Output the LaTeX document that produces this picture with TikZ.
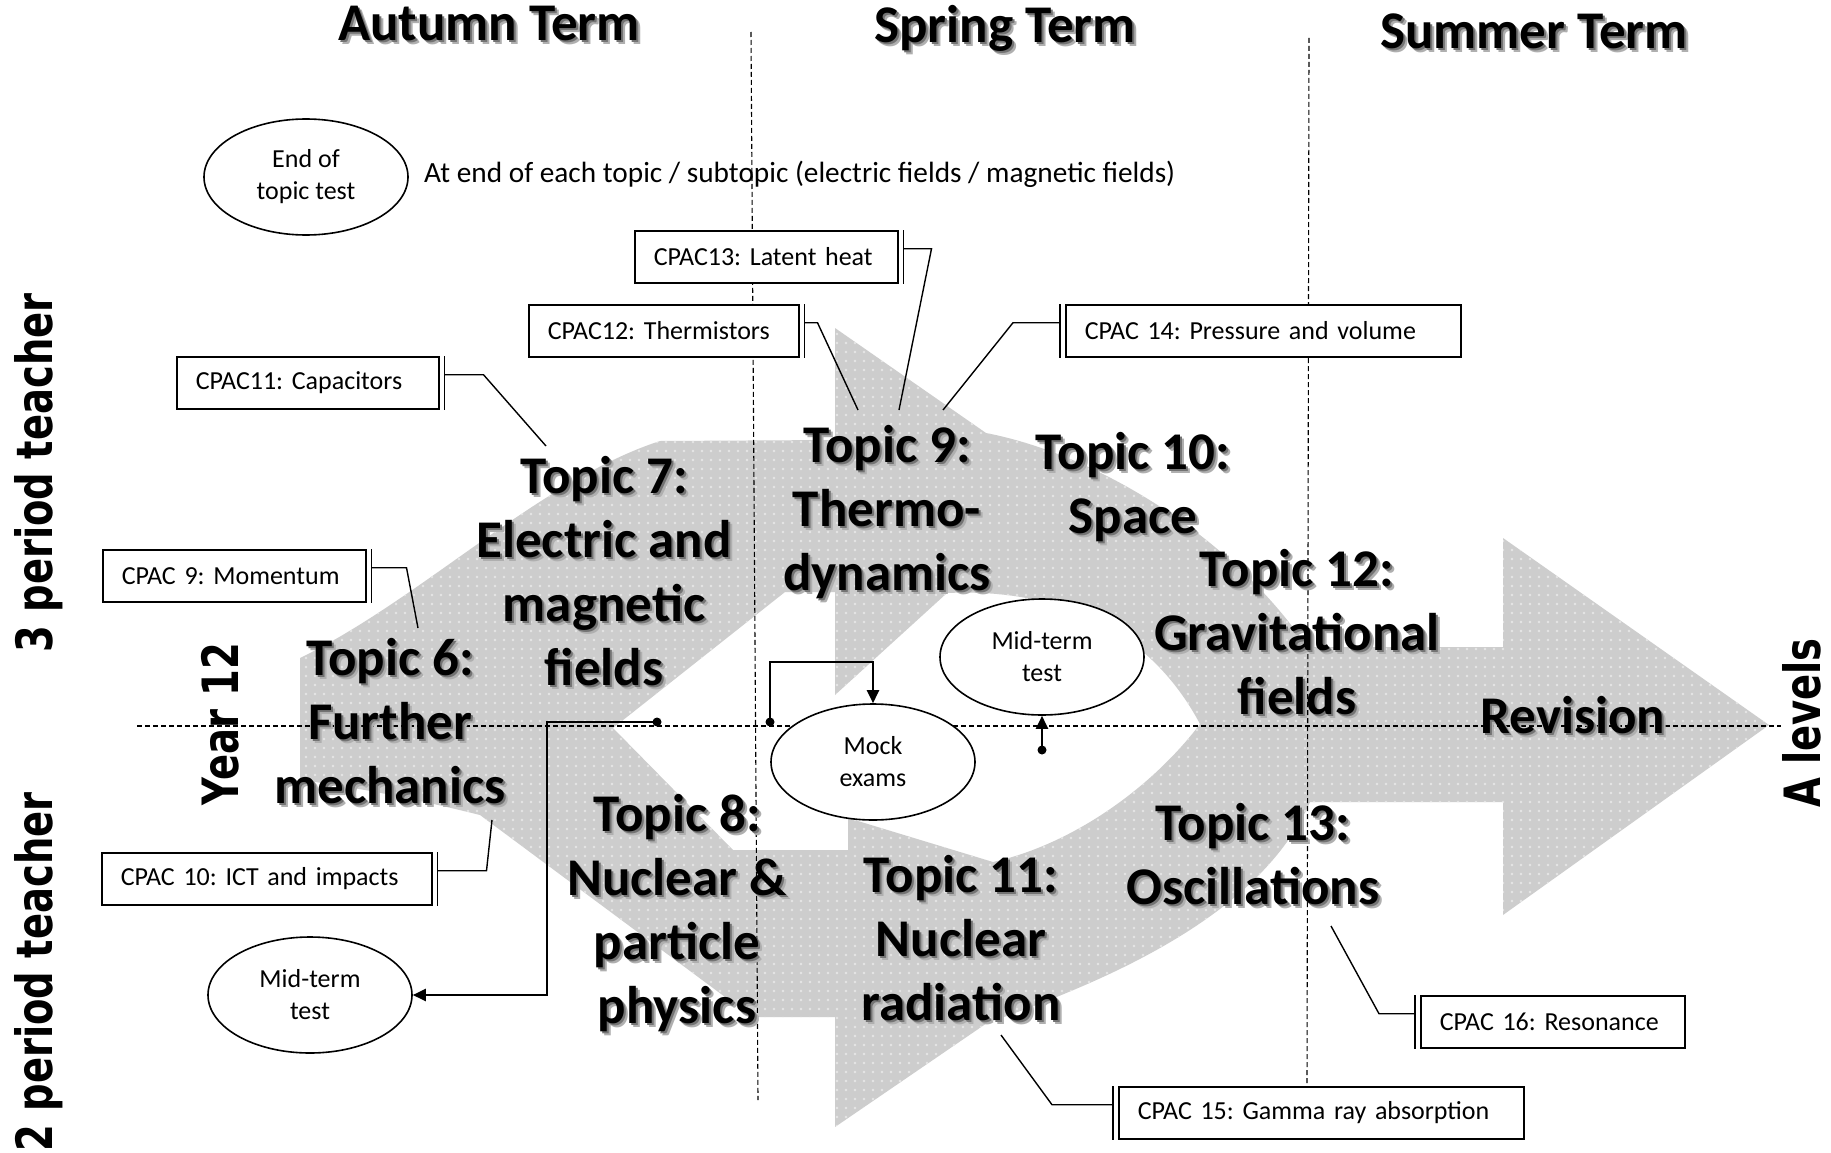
\documentclass[tikz,border=0pt]{standalone}
\usepackage{fontspec}
\setmainfont{Carlito}
\newfontfamily\sidefamily{DejaVu Sans}
\usetikzlibrary{shapes.geometric,arrows.meta,patterns.meta,calc}

\definecolor{bandgray}{RGB}{205,205,205}
\definecolor{banddot}{RGB}{230,230,230}
\definecolor{shadowsoft}{RGB}{175,175,175}
\definecolor{shadowgray}{RGB}{115,115,115}

\newcommand\tpfont{\fontsize{53}{64}\selectfont\bfseries}
\newcommand\boxfont{\fontsize{26}{32}\selectfont\frenchspacing}
\newcommand\notefont{\fontsize{29.3}{35}\selectfont\frenchspacing}
\newcommand\sidefont{\fontsize{38.5}{46}\selectfont\sidefamily\bfseries}

% centred lines of bold text over a soft drop shadow
\newcommand\shadowed[1]{%
  \makebox[0pt][l]{\hspace*{4pt}\raisebox{-4pt}[0pt][0pt]{\color{shadowsoft}\begin{tabular}[b]{@{}c@{}}#1\end{tabular}}}%
  \makebox[0pt][l]{\hspace*{2pt}\raisebox{-2pt}[0pt][0pt]{\color{shadowgray}\begin{tabular}[b]{@{}c@{}}#1\end{tabular}}}%
  \begin{tabular}[b]{@{}c@{}}#1\end{tabular}}

\tikzset{
  biglabel/.style={font=\tpfont, inner sep=0pt},
  sidelabel/.style={font=\sidefont, rotate=90, inner sep=0pt},
  guide/.style={line width=1.1pt, dash pattern=on 5pt off 3pt},
  cpac/.style={draw, line width=1.5pt, fill=white, font=\boxfont, align=left,
    minimum height=52pt, inner xsep=19pt, inner ysep=0pt, anchor=north west},
  accent/.style={line width=1.5pt},
  callout/.style={line width=1.4pt},
  event/.style={ellipse, draw, line width=1.6pt, fill=white, font=\boxfont,
    align=center, minimum width=204pt, minimum height=116pt, inner sep=0pt},
  flow/.style={line width=2.2pt, -{Triangle[length=13pt,width=12pt]}},
  dot/.style={circle, fill=black, inner sep=0pt, minimum size=9pt},
}

\newcommand\shadowlabel[3]{\node[biglabel] (#1) at (#2) {\shadowed{#3}};}

\begin{document}
\begin{tikzpicture}[x=1pt,y=-1pt]
\useasboundingbox (0,0) rectangle (1831,1153);
\fill[white] (0,0) rectangle (1831,1153);

% the course loop and the final arrow towards the exams
\path[fill=bandgray, even odd rule,
      postaction={pattern={Dots[distance=9pt,radius=1.3pt]}, pattern color=banddot, even odd rule}]
  (300,658) .. controls (420,600) and (540,480) .. (660,441) -- (835,440) -- (835,328) -- (986,433)
  .. controls (1100,455) and (1235,540) .. (1307,647) -- (1503,647) -- (1503,538) -- (1769,725)
  -- (1503,915) -- (1503,802) -- (1310,802) .. controls (1260,915) and (1110,980) .. (987,1023)
  -- (835,1127) -- (835,1017) -- (752,1017) -- (480,815) .. controls (400,795) and (340,785) .. (300,780) -- cycle
  (613,728) -- (785,592) -- (835,592) -- (835,695) -- (947,593)
  .. controls (1060,588) and (1150,630) .. (1200,724)
  .. controls (1150,790) and (1070,845) .. (993,862) -- (848,818) -- (848,850) -- (733,850) -- cycle;

% term and year guides
\draw[guide] (137,726) -- (1781,726);
\draw[guide] (751,32) -- (758,1100);
\draw[guide] (1309,38) -- (1307,1085);

% terms
\shadowlabel{autumn}{489,28}{Autumn Term}
\shadowlabel{spring}{1005,30}{Spring Term}
\shadowlabel{summer}{1534,36}{Summer Term}

% topics
\shadowlabel{t6}{390,727}{Topic 6:\\Further\\mechanics}
\shadowlabel{t7}{604,577}{Topic 7:\\Electric and\\magnetic\\fields}
\shadowlabel{t9}{887,514}{Topic 9:\\Thermo-\\dynamics}
\shadowlabel{t10}{1133,489}{Topic 10:\\Space}
\shadowlabel{t12}{1297,638}{Topic 12:\\Gravitational\\fields}
\shadowlabel{rev}{1573,721}{Revision}
\shadowlabel{t8}{677,915}{Topic 8:\\Nuclear \&\\particle\\physics}
\shadowlabel{t11}{961,944}{Topic 11:\\Nuclear\\radiation}
\shadowlabel{t13}{1253,860}{Topic 13:\\Oscillations}

% side labels
\node[sidelabel] (three) at (39,473) {\scalebox{1}[1.3]{3 period teacher}};
\node[sidelabel] (two) at (39,972) {\scalebox{1}[1.3]{2 period teacher}};
\node[sidelabel] (year) at (220,724) {\scalebox{1}[1.3]{Year 12}};
\node[sidelabel] (alev) at (1802,723) {\scalebox{1}[1.3]{A levels}};

% assessments
\node[event] (endtest) at (306,177) {End of\\topic test};
\node[font=\notefont, anchor=west, inner sep=0pt] (endnote) at (424,174)
  {At end of each topic / subtopic (electric fields / magnetic fields)};
\node[event] (midleft) at (310,995) {Mid-term\\test};
\node[event] (mock) at (873,762) {Mock\\exams};
\node[event] (midc) at (1042,657) {Mid-term\\test};

\node[dot] (d1) at (657,722) {};
\node[dot] (d2) at (770,722) {};
\node[dot] (d3) at (1042,750) {};
\draw[flow] (d1.center) -- ++(-110,0) |- (midleft.east);
\draw[flow] (d2.center) |- ($(mock.north)+(0,-41)$) -- (mock.north);
\draw[flow] (d3.center) -- (midc.south);

% practical endorsement tasks
\node[cpac, text width=225pt] (c13) at (634,230) {CPAC13: Latent heat};
\node[cpac, text width=232pt] (c12) at (528,304) {CPAC12: Thermistors};
\node[cpac, text width=224pt] (c11) at (176,356) {CPAC11: Capacitors};
\node[cpac, text width=225pt] (c9) at (102,549) {CPAC 9: Momentum};
\node[cpac, text width=292pt] (c10) at (101,852) {CPAC 10: ICT and impacts};
\node[cpac, text width=357pt] (c14) at (1065,304) {CPAC 14: Pressure and volume};
\node[cpac, text width=367pt] (c15) at (1118,1086) {CPAC 15: Gamma ray absorption};
\node[cpac, text width=226pt] (c16) at (1420,995) {CPAC 16: Resonance};

\foreach \b in {c13,c12,c11,c9,c10}
  \draw[accent] ($(\b.north east)+(5,0)$) -- ($(\b.south east)+(5,0)$);
\foreach \b in {c14,c15,c16}
  \draw[accent] ($(\b.north west)+(-5,0)$) -- ($(\b.south west)+(-5,0)$);

\coordinate (k13) at (899,410);
\coordinate (k12) at (858,410);
\coordinate (k11) at (546,446);
\coordinate (k9) at (418,628);
\coordinate (k10) at (492,820);
\coordinate (k14) at (943,410);
\coordinate (k15) at (1001,1035);
\coordinate (k16) at (1331,926);

\draw[callout] ($(c13.north east)!0.35!(c13.south east)+(5,0)$) -- ++(28,0) -- (k13);
\draw[callout] ($(c12.north east)!0.35!(c12.south east)+(5,0)$) -- ++(13,0) -- (k12);
\draw[callout] ($(c11.north east)!0.35!(c11.south east)+(5,0)$) -- ++(39,0) -- (k11);
\draw[callout] ($(c9.north east)!0.35!(c9.south east)+(5,0)$) -- ++(35,0) -- (k9);
\draw[callout] ($(c10.north east)!0.35!(c10.south east)+(5,0)$) -- ++(49,0) -- (k10);
\draw[callout] ($(c14.north west)!0.35!(c14.south west)+(-5,0)$) -- ++(-47,0) -- (k14);
\draw[callout] ($(c15.north west)!0.35!(c15.south west)+(-5,0)$) -- ++(-61,0) -- (k15);
\draw[callout] ($(c16.north west)!0.35!(c16.south west)+(-5,0)$) -- ++(-36,0) -- (k16);
\end{tikzpicture}
\end{document}
